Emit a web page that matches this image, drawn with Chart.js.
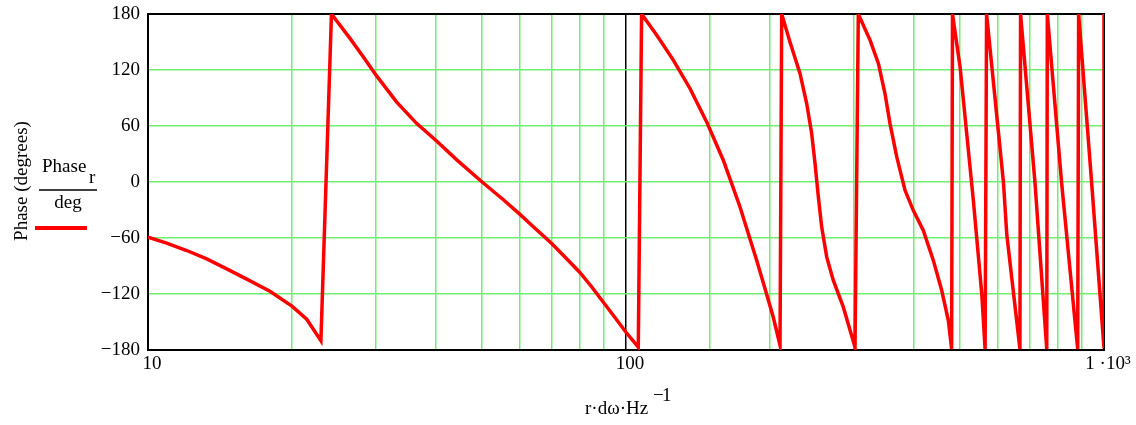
<!DOCTYPE html>
<html>
<head>
<meta charset="utf-8">
<script src="https://cdn.jsdelivr.net/npm/chart.js@4"></script>
<style>
    body { margin: 0; background: white; }
    #wrap { width: 1136px; height: 425px; position: relative; }
</style>
</head>
<body>
<div id="wrap"><canvas id="myChart"></canvas></div>
<script>
// frequency (r·dω·Hz^-1) and phase (deg), one row per branch
const freq = [
    10, 10.94, 12.05, 13.27, 14.61, 16.09, 17.99, 20, 21.48, 23.0,
    24.2, 26.46, 28.2, 30, 33.1, 36.5, 40, 44.2, 50, 55.4, 60, 64, 70, 73.9, 80, 84.8, 90, 94.9, 100, 106.1,
    107.8, 115.9, 125.6, 136.1, 147.5, 159.8, 166.4, 173.2, 180.3, 187.7, 195.4, 203.3, 210,
    211.7, 220.3, 231.2, 238.8, 244.6, 248.6, 252.6, 256.7, 263, 271.5, 284.9, 301.4,
    306.2, 324, 337.3, 348.2, 356.7, 368.5, 383.5, 399, 418.8, 439.5, 457.7, 472.5, 480,
    482, 500, 533, 555, 564,
    568, 616, 626, 667,
    669, 717, 759,
    761, 815, 881,
    885, 942, 1000, 1000
];
const phase = [
    -59, -65.5, -73.4, -82.3, -93.1, -104, -117, -133, -147, -170,
    180, 153.9, 134.2, 114.5, 85.9, 62.6, 44.8, 24, 0, -19, -34.7, -48, -66.2, -78.5, -96.6, -112.5, -129.9, -145.5, -161, -177,
    180, 157.5, 130.6, 100.2, 64.4, 23.3, -1.8, -26.8, -55.4, -84, -114.5, -144.9, -175,
    180, 150, 116.3, 84.1, 51.9, 19.7, -16.1, -48.3, -80.5, -105.5, -134.1, -177,
    180, 152.1, 127, 94.8, 62.6, 26.9, -8.9, -30.4, -51.9, -84, -116.3, -148.5, -179,
    180, 123, -20, -120, -179,
    180, 0, -56, -179,
    180, 0, -179,
    180, 0, -179,
    180, 0, -178, 180
];
const yTicks = [-180, -120, -60, 0, 60, 120, 180];
const xLabels = { 10: '10', 100: '100', 1000: '1 \u00b710\u00b3' };

const serif = "'Liberation Serif', 'DejaVu Serif', serif";
const green = 'rgb(110,240,110)';

const points = [];
for (let i = 0; i < freq.length; i++) {
    points.push({ x: freq[i], y: phase[i] });
}

// no extra label padding, the layout padding sets the plot box
function noPad(s) {
    s.paddingTop = 0;
    s.paddingBottom = 0;
    s.paddingLeft = 0;
    s.paddingRight = 0;
}

// frame + side texts drawn by hand (mathcad style)
const extras = {
    id: 'extras',
    beforeDatasetsDraw(chart) {
        const ctx = chart.ctx, a = chart.chartArea;
        ctx.save();
        ctx.strokeStyle = 'black';
        ctx.lineWidth = 2;
        ctx.strokeRect(a.left, a.top, a.right - a.left, a.bottom - a.top);
        ctx.restore();
    },
    afterDraw(chart) {
        const ctx = chart.ctx;
        ctx.save();
        ctx.fillStyle = 'black';
        ctx.font = '19px ' + serif;

        // y title
        ctx.save();
        ctx.translate(27, 181);
        ctx.rotate(-Math.PI / 2);
        ctx.textAlign = 'center';
        ctx.fillText('Phase (degrees)', 0, 0);
        ctx.restore();

        // legend: Phase_r / deg
        ctx.textAlign = 'left';
        ctx.fillText('Phase', 42, 172);
        ctx.fillText('r', 89, 183);
        ctx.lineWidth = 1.5;
        ctx.strokeStyle = 'black';
        ctx.beginPath();
        ctx.moveTo(39, 190);
        ctx.lineTo(97, 190);
        ctx.stroke();
        ctx.textAlign = 'center';
        ctx.fillText('deg', 68, 208);
        ctx.strokeStyle = 'red';
        ctx.lineWidth = 4;
        ctx.beginPath();
        ctx.moveTo(35, 228);
        ctx.lineTo(87, 228);
        ctx.stroke();

        // x title
        ctx.textAlign = 'left';
        ctx.fillText('r\u00b7d\u03c9\u00b7Hz', 585, 414);
        ctx.fillText('\u2212', 653, 401);
        ctx.fillText('1', 662, 401);
        ctx.restore();
    }
};

const config = {
    type: 'line',
    data: {
        datasets: [{
            data: points,
            borderColor: 'red',
            borderWidth: 3.5,
            pointRadius: 0,
            tension: 0,
            fill: false
        }]
    },
    options: {
        responsive: true,
        maintainAspectRatio: false,
        animation: false,
        layout: { padding: { left: 0, right: 32, top: 14, bottom: 0 } },
        plugins: { legend: { display: false }, tooltip: { enabled: false } },
        scales: {
            x: {
                type: 'logarithmic',
                min: 10,
                max: 1000,
                afterFit: s => { s.height = 75; noPad(s) },
                border: { color: 'black', width: 2 },
                grid: {
                    drawTicks: false,
                    lineWidth: 1.5,
                    color: c => (c.tick && Math.abs(c.tick.value - 100) < 1e-6) ? 'black' : green
                },
                ticks: {
                    autoSkip: false,
                    maxRotation: 0,
                    padding: 3,
                    labelOffset: 4,
                    color: 'black',
                    font: { family: serif, size: 19 },
                    callback: v => xLabels[Math.round(v)] && Math.abs(v - Math.round(v)) < 1e-6 ? xLabels[Math.round(v)] : ''
                }
            },
            y: {
                min: -180,
                max: 180,
                afterFit: s => { s.width = 148; noPad(s) },
                afterBuildTicks: s => { s.ticks = yTicks.map(v => ({ value: v })) },
                border: { color: 'black', width: 2 },
                grid: { drawTicks: false, lineWidth: 1.5, color: green },
                ticks: {
                    padding: 8,
                    color: 'black',
                    font: { family: serif, size: 19 },
                    callback: v => v < 0 ? '\u2212' + (-v) : '' + v
                }
            }
        }
    },
    plugins: [extras]
};

const myChart = new Chart(document.querySelector('#myChart'), config);
</script>
</body>
</html>
